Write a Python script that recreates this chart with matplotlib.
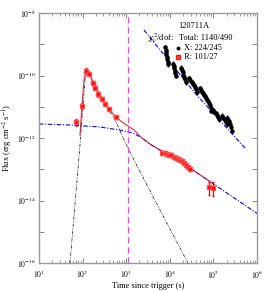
"""GRB 120711A light curve: X-ray and R-band data with model components."""

import matplotlib

matplotlib.use("Agg")
import matplotlib.pyplot as plt
import numpy as np
from matplotlib.ticker import FixedLocator, FuncFormatter, LogLocator, NullFormatter

plt.rcParams["font.family"] = ["Liberation Serif", "DejaVu Serif"]
plt.rcParams["mathtext.fontset"] = "stix"

# --- X-ray (XRT) points, one sub-list per orbit ---------------------------
xrt_t = [
    7800, 8000, 8200, 8400, 8600, 8800, 9000, 9200,
    11800, 12200, 12600, 13000, 13400, 13800,
    18200, 19000, 19800, 20600, 21400, 22200, 23000,
    27500, 29500, 31500, 33500, 35500, 37500, 39500, 41500,
    49000, 52000, 55000, 58000, 61000, 64000, 67000, 70000, 74000, 78000, 82000, 86000, 90000,
    98000, 105000, 112000, 120000, 128000, 136000,
    160000, 170000, 180000, 190000, 200000,
    210000, 225000, 240000, 255000, 270000,
]
xrt_f = [
    8.0e-10, 6.5e-10, 5.5e-10, 4.8e-10, 4.0e-10, 3.4e-10, 2.8e-10, 2.3e-10,
    2.4e-10, 2.0e-10, 1.7e-10, 1.4e-10, 1.2e-10, 1.0e-10,
    1.8e-10, 1.5e-10, 1.25e-10, 1.05e-10, 9.0e-11, 7.5e-11, 6.2e-11,
    8.2e-11, 7.0e-11, 6.2e-11, 5.5e-11, 4.8e-11, 4.2e-11, 3.6e-11, 3.0e-11,
    4.0e-11, 3.4e-11, 3.0e-11, 2.7e-11, 2.4e-11, 2.2e-11, 1.9e-11, 1.7e-11, 1.5e-11, 1.3e-11, 1.1e-11, 9.0e-12, 7.5e-12,
    8.0e-12, 7.0e-12, 6.2e-12, 5.5e-12, 4.7e-12, 4.0e-12,
    5.2e-12, 4.5e-12, 3.9e-12, 3.3e-12, 2.8e-12,
    4.5e-12, 3.6e-12, 2.9e-12, 2.2e-12, 1.7e-12,
]

# --- optical R-band points ----------------------------------------------------
opt_t = [69, 95, 118, 141, 170, 192, 229, 274, 325, 404, 575,
         6620, 7760, 8630, 9600, 10700, 12500, 13900, 15400, 17100, 19000,
         21200, 23500, 26100, 29000, 80000, 98000]
opt_f = [3.3e-12, 1.07e-11, 1.4e-10, 1.1e-10, 5.6e-11, 3.9e-11, 2.5e-11, 1.74e-11,
         1.2e-11, 8.5e-12, 4.7e-12,
         3.31e-13, 3.31e-13, 3.09e-13, 2.88e-13, 2.88e-13, 2.46e-13, 2.29e-13,
         2.14e-13, 2.0e-13, 1.84e-13, 1.59e-13, 1.38e-13, 1.19e-13, 1.03e-13,
         2.7e-14, 2.6e-14]
opt_relerr = [0.25, 0.2, 0.2, 0.15, 0.15, 0.15, 0.15, 0.15, 0.15, 0.15, 0.15,
              0.12, 0.12, 0.12, 0.12, 0.12, 0.12, 0.12, 0.12, 0.12, 0.12,
              0.12, 0.12, 0.12, 0.12, 0.45, 0.45]

# --- model curves -------------------------------------------------------------
xmod_t = [2560, 37800, 5.31e5]
xmod_f = [2.86e-9, 2.75e-11, 4.79e-13]

fs_t = [10, 51, 250, 720, 1430, 2300, 3520, 5960, 13200, 29000, 1.09e5, 1.05e6]
fs_f = [2.81e-12, 2.61e-12, 2.25e-12, 1.80e-12, 1.45e-12, 1.0e-12, 6.4e-13,
        4.1e-13, 2.13e-13, 1.10e-13, 3.13e-14, 3.70e-15]

rs_t = [51.4, 67, 87.1, 102, 113.5, 126, 140, 164, 203, 251, 326, 425, 648,
        938, 1592, 5957, 26100]
rs_f = [1e-16, 7.73e-15, 5.97e-13, 1.14e-11, 7.18e-11, 1.39e-10, 1.39e-10,
        7.73e-11, 4.29e-11, 2.56e-11, 1.42e-11, 7.31e-12, 2.42e-12, 7.45e-13,
        1.71e-13, 4.97e-15, 1e-16]

tot_t = [87.1, 96.8, 107.7, 119.7, 133, 164, 203, 251, 326, 425, 583, 801,
         1099, 1510, 2301, 3516, 5957, 13150, 29040, 108900]
tot_f = [1.25e-12, 1.06e-11, 7.18e-11, 1.5e-10, 1.39e-10, 7.18e-11, 3.98e-11,
         2.38e-11, 1.32e-11, 7.87e-12, 4.70e-12, 3.25e-12, 2.42e-12, 1.80e-12,
         1.0e-12, 6.43e-13, 4.13e-13, 2.13e-13, 1.10e-13, 3.13e-14]

t_break = 1100  # magenta marker

fig = plt.figure(figsize=(2.70, 2.91), dpi=100)
ax = fig.add_axes([0.1444, 0.0962, 0.8074, 0.8591])

ax.plot(rs_t, rs_f, color="black", ls=(0, (4, 1.5, 1, 1.5, 1, 1.5)), lw=0.5)
ax.plot(fs_t, fs_f, color="blue", ls=(0, (4, 1.5, 1, 1.5)), lw=0.8)
ax.plot(xmod_t, xmod_f, color="blue", ls=(0, (4, 1.5, 1, 1.5)), lw=0.8)
ax.plot(tot_t, tot_f, color="#e0102a", lw=0.7)
ax.axvline(t_break, color="#ff33ff", ls=(0, (5, 3)), lw=0.9)

xt = np.array(xrt_t)
xf = np.array(xrt_f)
ax.errorbar(xt, xf, xerr=0.04 * xt, yerr=0.18 * xf, fmt="o", ms=2.2,
            color="black", elinewidth=1.0, capsize=0, zorder=3)

ot = np.array(opt_t)
of = np.array(opt_f)
ax.errorbar(ot, of, yerr=np.array(opt_relerr) * of, fmt="s", ms=2.6,
            color="red", mec="#ff5050", elinewidth=0.8, capsize=1.0, zorder=4)

ax.set_xscale("log")
ax.set_yscale("log")
ax.set_xlim(10, 1e6)
ax.set_ylim(1e-16, 1e-8)

ax.xaxis.set_major_locator(LogLocator(base=10, numticks=10))
ax.xaxis.set_minor_locator(LogLocator(base=10, subs=np.arange(2, 10), numticks=10))
ax.xaxis.set_minor_formatter(NullFormatter())
ax.xaxis.set_major_formatter(FuncFormatter(lambda v, _: rf"$10^{{{int(round(np.log10(v)))}}}$"))

ax.yaxis.set_major_locator(FixedLocator([10.0 ** k for k in range(-16, -7)]))
ax.yaxis.set_minor_locator(FixedLocator([]))


def ylab(v, _):
    k = int(round(np.log10(v)))
    return rf"$10^{{{k}}}$" if k % 2 == 0 else ""


ax.yaxis.set_major_formatter(FuncFormatter(ylab))

ax.tick_params(which="both", direction="in", top=True, right=True,
               colors="#888888", labelcolor="black", labelsize=5.5)
ax.tick_params(axis="x", which="major", pad=4)
ax.tick_params(axis="y", which="major", pad=2.5)
ax.tick_params(which="major", length=3.5, width=0.7)
ax.tick_params(which="minor", length=2, width=0.6)
for s in ax.spines.values():
    s.set_color("#999999")
    s.set_linewidth(1.0)

ax.set_xlabel("Time since trigger (s)", fontsize=6, labelpad=1.0)
ax.set_ylabel(r"Flux (erg cm$^{-2}$ s$^{-1}$)", fontsize=6, labelpad=1)

# annotation block
ax.text(0.71, 0.948, "120711A", transform=ax.transAxes, fontsize=6, ha="center", va="center")
ax.text(0.50, 0.900, r"$\chi^2_\nu$/dof:", transform=ax.transAxes, fontsize=6, va="center")
ax.text(0.64, 0.900, "Total: 1140/490", transform=ax.transAxes, fontsize=6, va="center")
ax.plot([0.638], [0.860], "o", ms=1.8, color="black", transform=ax.transAxes)
ax.text(0.665, 0.860, "X: 224/245", transform=ax.transAxes, fontsize=6, va="center")
ax.plot([0.638], [0.824], "s", ms=2.4, color="red", transform=ax.transAxes)
ax.plot([0.638], [0.824], "x", ms=3, mew=0.6, color="#ff7070", transform=ax.transAxes)
ax.text(0.665, 0.824, "R: 101/27", transform=ax.transAxes, fontsize=6, va="center")

fig.savefig("out.png", dpi=100)
